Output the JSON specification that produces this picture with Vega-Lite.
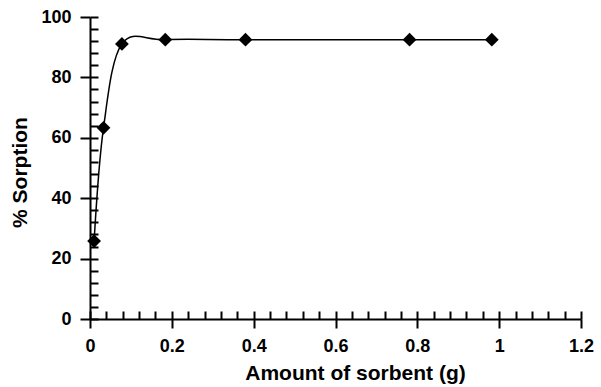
{
  "$schema": "https://vega.github.io/schema/vega-lite/v6.json",
  "width": 491,
  "height": 302,
  "autosize": "none",
  "padding": {"left": 90, "top": 17, "right": 20, "bottom": 68},
  "config": {
    "view": {"stroke": null},
    "font": "Liberation Sans",
    "axis": {"grid": false, "domainColor": "black", "domainWidth": 2, "tickColor": "black", "tickWidth": 2, "labelColor": "black", "titleColor": "black", "labelFont": "Liberation Sans", "titleFont": "Liberation Sans", "labelFontWeight": "bold", "titleFontWeight": "bold", "labelFontSize": 18, "titleFontSize": 21}
  },
  "data": {
    "values": [
      {"amount": 0.01, "sorption": 25.8},
      {"amount": 0.033, "sorption": 63.3},
      {"amount": 0.078, "sorption": 91.1},
      {"amount": 0.184, "sorption": 92.5},
      {"amount": 0.38, "sorption": 92.5},
      {"amount": 0.781, "sorption": 92.5},
      {"amount": 0.982, "sorption": 92.5}
    ]
  },
  "layer": [
    {
      "mark": {"type": "line", "interpolate": "cardinal", "color": "black", "strokeWidth": 1.5},
      "encoding": {
        "x": {"field": "amount", "type": "quantitative", "scale": {"domain": [0, 1.2], "nice": false, "zero": false},
          "axis": {"orient": "bottom", "title": "Amount of sorbent (g)", "values": [0, 0.2, 0.4, 0.6, 0.8, 1, 1.2], "format": "~g", "tickSize": 9, "labelPadding": 9, "titlePadding": 7, "titleX": 265, "labelFlush": false}},
        "y": {"field": "sorption", "type": "quantitative", "scale": {"domain": [0, 100], "nice": false},
          "axis": {"orient": "left", "title": "% Sorption", "values": [0, 20, 40, 60, 80, 100], "format": "d", "tickSize": 10, "labelPadding": 9, "titlePadding": 10, "titleY": 155, "labelFlush": false}}
      }
    },
    {
      "mark": {"type": "point", "shape": "diamond", "filled": true, "color": "black", "size": 190, "opacity": 1},
      "encoding": {
        "x": {"field": "amount", "type": "quantitative",
          "axis": {"orient": "bottom", "title": null, "labels": false, "domain": false, "tickSize": -8,
            "values": [0, 0.04, 0.08, 0.12, 0.16, 0.2, 0.24, 0.28, 0.32, 0.36, 0.4, 0.44, 0.48, 0.52, 0.56, 0.6, 0.64, 0.68, 0.72, 0.76, 0.8, 0.84, 0.88, 0.92, 0.96, 1, 1.04, 1.08, 1.12, 1.16, 1.2]}},
        "y": {"field": "sorption", "type": "quantitative",
          "axis": {"orient": "left", "title": null, "labels": false, "domain": false, "tickSize": -8,
            "values": [0, 4, 8, 12, 16, 20, 24, 28, 32, 36, 40, 44, 48, 52, 56, 60, 64, 68, 72, 76, 80, 84, 88, 92, 96, 100]}}
      }
    }
  ],
  "resolve": {"axis": {"x": "independent", "y": "independent"}}
}
